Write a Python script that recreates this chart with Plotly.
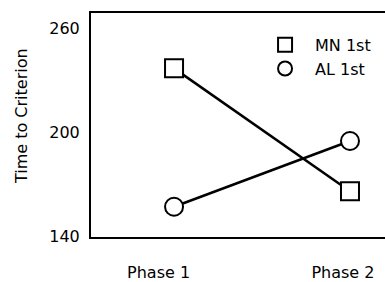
import plotly.graph_objects as go

phases = ["Phase 1", "Phase 2"]
phase_x = [1, 2]
mn_first = [237, 166]
al_first = [157, 195]
series_names = ["MN 1st", "AL 1st"]
y_ticks = [140, 200, 260]

FONT = "DejaVu Sans, Liberation Sans, Arial, sans-serif"
fig = go.Figure()

fig.add_trace(go.Scatter(
    x=phase_x, y=mn_first, mode="lines+markers", showlegend=False,
    line=dict(color="black", width=2.5),
    marker=dict(symbol="square", size=18, color="white", line=dict(color="black", width=2)),
))
fig.add_trace(go.Scatter(
    x=phase_x, y=al_first, mode="lines+markers", showlegend=False,
    line=dict(color="black", width=2.5),
    marker=dict(symbol="circle", size=18, color="white", line=dict(color="black", width=2)),
))
# legend-only entries (markers only)
for name, sym in zip(series_names, ["square", "circle"]):
    fig.add_trace(go.Scatter(
        x=[None], y=[None], mode="markers", name=name,
        marker=dict(symbol=sym, size=14, color="white", line=dict(color="black", width=2)),
    ))

fig.update_layout(
    width=385, height=282,
    margin=dict(l=91, r=0, t=13, b=43),
    paper_bgcolor="white", plot_bgcolor="white",
    font=dict(family=FONT, size=16, color="black"),
    showlegend=True,
    legend=dict(
        x=0.558, y=0.934, xanchor="left", yanchor="top",
        bgcolor="rgba(0,0,0,0)", borderwidth=0,
        font=dict(size=16), tracegroupgap=0, itemwidth=50,
    ),
    xaxis=dict(
        range=[0.528, 2.199], showgrid=False, zeroline=False,
        showline=True, linecolor="black", linewidth=2, mirror=True,
        tickvals=[0.912, 1.96], ticktext=phases,
        ticks="outside", ticklen=20, tickcolor="rgba(0,0,0,0)",
    ),
    yaxis=dict(
        range=[139.5, 269], showgrid=False, zeroline=False,
        showline=True, linecolor="black", linewidth=2,
        tickvals=y_ticks,
        ticks="outside", ticklen=6, tickcolor="rgba(0,0,0,0)",
    ),
    annotations=[dict(
        text="Time to Criterion", textangle=-90,
        xref="paper", yref="paper", x=-0.238, y=0.54,
        xanchor="center", yanchor="middle", showarrow=False,
        font=dict(size=16),
    )],
)

fig.write_html("out.html", config={"displayModeBar": False},
               post_script="document.body.style.margin='0';")
